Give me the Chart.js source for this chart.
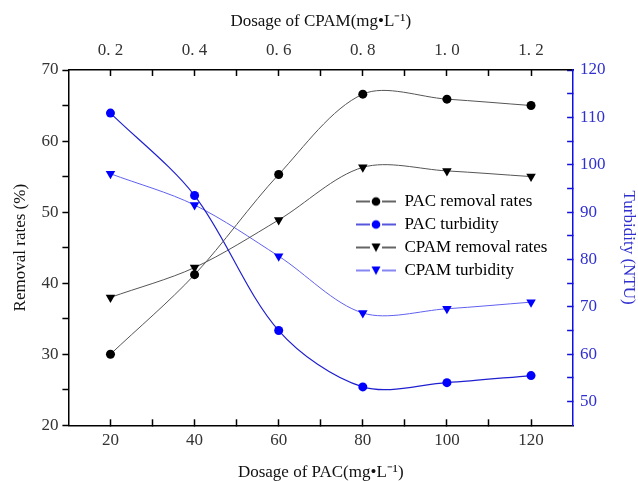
<!DOCTYPE html>
<html>
<head>
<meta charset="utf-8">
<script src="https://cdn.jsdelivr.net/npm/chart.js@4.4.1/dist/chart.umd.min.js"></script>
<style>
html, body { margin: 0; padding: 0; background: #fff; }
</style>
</head>
<body>
<canvas id="chart" width="638" height="481"></canvas>
<script>
// x values (PAC dose) and the matching CPAM dose labels on the top axis
var pacDose = [20, 40, 60, 80, 100, 120];
var cpamLabels = ['0. 2', '0. 4', '0. 6', '0. 8', '1. 0', '1. 2'];

// series
var pacRemoval = [30, 41.2, 55.3, 66.6, 65.9, 65];
var cpamRemoval = [38, 42.2, 48.9, 56.3, 55.8, 55];
var pacTurbidity = [110.9, 93.5, 65, 53.1, 54, 55.5];
var cpamTurbidity = [98.1, 91.5, 80.7, 68.7, 69.6, 71];

// tick positions (major + minor)
var xTicks = [20, 30, 40, 50, 60, 70, 80, 90, 100, 110, 120];
var leftTicks = [20, 25, 30, 35, 40, 45, 50, 55, 60, 65, 70];
var rightTicks = [50, 55, 60, 65, 70, 75, 80, 85, 90, 95, 100, 105, 110, 115, 120];

var serif = 'Liberation Serif';
var blue = '#1010e0';

function pts(ys) {
    return ys.map(function (y, i) { return { x: pacDose[i], y: y }; });
}

function legendIcon(fill, line, style) {
    var c = document.createElement('canvas');
    c.width = 40; c.height = 12;
    var g = c.getContext('2d');
    g.strokeStyle = line; g.lineWidth = 1.3;
    g.beginPath(); g.moveTo(0, 6); g.lineTo(14, 6); g.moveTo(26, 6); g.lineTo(40, 6); g.stroke();
    g.fillStyle = fill;
    g.beginPath();
    if (style === 'circle') {
        g.arc(20, 6, 4.3, 0, Math.PI * 2);
    } else {
        g.moveTo(15.5, 2); g.lineTo(24.5, 2); g.lineTo(20, 10.5); g.closePath();
    }
    g.fill();
    return c;
}

function setTicks(list) {
    return function (scale) {
        scale.ticks = list.map(function (v) { return { value: v }; });
    };
}

var datasets = [
    {
        label: 'PAC removal rates', data: pts(pacRemoval), yAxisID: 'y',
        borderColor: '#555', backgroundColor: '#000', borderWidth: 1,
        pointStyle: 'circle', pointRadius: 4.5, pointBorderWidth: 0,
        icon: legendIcon('#000', '#333', 'circle')
    },
    {
        label: 'PAC turbidity', data: pts(pacTurbidity), yAxisID: 'y1',
        borderColor: '#2020d0', backgroundColor: '#0000ff', borderWidth: 1.2,
        pointStyle: 'circle', pointRadius: 4.5, pointBorderWidth: 0,
        icon: legendIcon('#0000ff', '#2020d0', 'circle')
    },
    {
        label: 'CPAM removal rates', data: pts(cpamRemoval), yAxisID: 'y',
        borderColor: '#555', backgroundColor: '#000', borderWidth: 1,
        pointStyle: 'triangle', pointRotation: 180, pointRadius: 5.5, pointBorderWidth: 0,
        icon: legendIcon('#000', '#333', 'tri')
    },
    {
        label: 'CPAM turbidity', data: pts(cpamTurbidity), yAxisID: 'y1',
        borderColor: '#6060f0', backgroundColor: '#0000ff', borderWidth: 1,
        pointStyle: 'triangle', pointRotation: 180, pointRadius: 5.5, pointBorderWidth: 0,
        icon: legendIcon('#0000ff', '#6060f0', 'tri')
    }
];

// put the legend box inside the plot, right of centre
var placeLegend = {
    id: 'placeLegend',
    afterUpdate: function (chart) {
        var l = chart.legend;
        var w = l.width, h = l.height;
        l.left = 350; l.top = 187;
        l.right = l.left + w; l.bottom = l.top + h;
        l.adjustHitBoxes();
    }
};

var chart = new Chart(document.getElementById('chart'), {
    type: 'line',
    data: { datasets: datasets },
    options: {
        responsive: false,
        animation: false,
        devicePixelRatio: 1,
        layout: { padding: { top: 11, left: 10, right: 0, bottom: -1 } },
        elements: { line: { tension: 0.32, fill: false } },
        plugins: {
            legend: {
                position: 'chartArea',
                align: 'start',
                labels: {
                    usePointStyle: true,
                    pointStyleWidth: 40,
                    padding: 6,
                    color: '#222',
                    font: { family: serif, size: 17 },
                    generateLabels: function (chart) {
                        return chart.data.datasets.map(function (ds, i) {
                            return {
                                text: ds.label, pointStyle: ds.icon, datasetIndex: i,
                                fillStyle: ds.backgroundColor, strokeStyle: ds.borderColor,
                                lineWidth: 0, hidden: false
                            };
                        });
                    }
                }
            },
            tooltip: { enabled: false }
        },
        scales: {
            x: {
                type: 'linear', position: 'bottom', min: 10, max: 130,
                afterBuildTicks: setTicks(xTicks),
                grid: { drawOnChartArea: false, tickLength: -6, tickColor: '#000', tickWidth: 1.5 },
                border: { color: '#000', width: 1.5 },
                ticks: {
                    padding: 13, color: '#333', font: { family: serif, size: 17, lineHeight: 1 },
                    maxRotation: 0, autoSkip: false,
                    callback: function (v) { return pacDose.indexOf(v) >= 0 ? String(v) : ''; }
                },
                title: {
                    display: true, text: 'Dosage of PAC(mg\u2022L\u207B\u00B9)', color: '#111',
                    font: { family: serif, size: 17, lineHeight: 1.1 }, padding: { top: 1, bottom: 0 }
                }
            },
            x2: {
                type: 'linear', position: 'top', min: 10, max: 130,
                afterBuildTicks: setTicks(xTicks),
                grid: { drawOnChartArea: false, tickLength: -6, tickColor: '#000', tickWidth: 1.5 },
                border: { color: '#000', width: 1.5 },
                ticks: {
                    padding: 17, color: '#333', font: { family: serif, size: 17, lineHeight: 1 },
                    maxRotation: 0, autoSkip: false,
                    callback: function (v) { var i = pacDose.indexOf(v); return i >= 0 ? cpamLabels[i] : ''; }
                },
                title: {
                    display: true, text: 'Dosage of CPAM(mg\u2022L\u207B\u00B9)', color: '#111',
                    font: { family: serif, size: 17, lineHeight: 1 }, padding: { top: 2, bottom: -5 }
                }
            },
            y: {
                type: 'linear', position: 'left', min: 20, max: 70,
                afterBuildTicks: setTicks(leftTicks),
                grid: { drawOnChartArea: false, tickLength: 6, tickColor: '#000', tickWidth: 1.5 },
                border: { color: '#000', width: 1.5 },
                ticks: {
                    padding: 4, color: '#333', font: { family: serif, size: 17 },
                    autoSkip: false,
                    callback: function (v) { return v % 10 === 0 ? String(v) : ''; }
                },
                title: {
                    display: true, text: 'Removal rates (%)', color: '#111',
                    font: { family: serif, size: 17 }, padding: { top: 0, bottom: 7 }
                }
            },
            y1: {
                type: 'linear', position: 'right', min: 45, max: 120,
                afterBuildTicks: setTicks(rightTicks),
                grid: { drawOnChartArea: false, tickLength: -6, tickColor: blue, tickWidth: 1.5 },
                border: { color: blue, width: 1.5 },
                ticks: {
                    padding: 13, color: '#3030d0', font: { family: serif, size: 17 },
                    autoSkip: false,
                    callback: function (v) { return v % 10 === 0 ? String(v) : ''; }
                },
                title: {
                    display: true, text: 'Turbidity (NTU)', color: '#3030d0',
                    font: { family: serif, size: 17 }, padding: { top: -1, bottom: 0 }
                }
            }
        }
    },
    plugins: [placeLegend]
});
</script>
</body>
</html>
